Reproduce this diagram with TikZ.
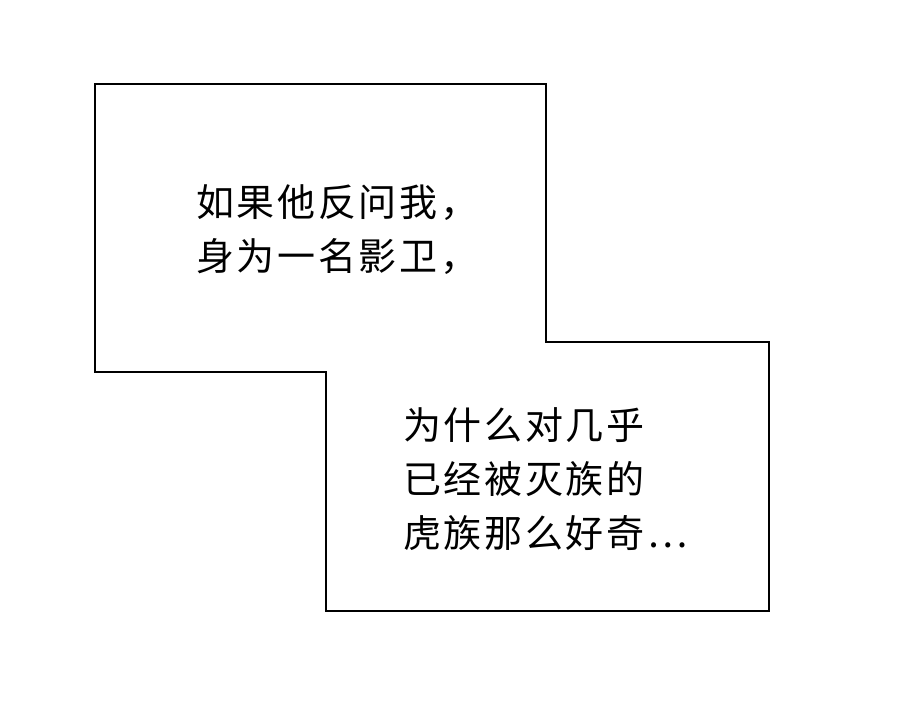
\documentclass[tikz,border=0pt]{standalone}
\usepackage{fontspec}
\newfontfamily\cjk[LetterSpace=7]{Noto Sans CJK SC}
\begin{document}
\begin{tikzpicture}[x=1pt,y=-1pt]
\tikzset{
	say/.style={anchor=north west, align=left, inner sep=0pt, font=\cjk\fontsize{38}{54}\selectfont}
}
\useasboundingbox (0,0) rectangle (900,703);

% outline of the two boxes
\draw[line width=2pt] (95,84) -- (546,84) -- (546,342) -- (769,342) -- (769,611)
	-- (326,611) -- (326,372) -- (95,372) -- cycle;

% texts
\node[say] (q_1) at (196,184) {如果他反问我，\\身为一名影卫，};
\node[say] (q_2) at (403,407) {为什么对几乎\\已经被灭族的\\虎族那么好奇⋯};

\end{tikzpicture}
\end{document}
